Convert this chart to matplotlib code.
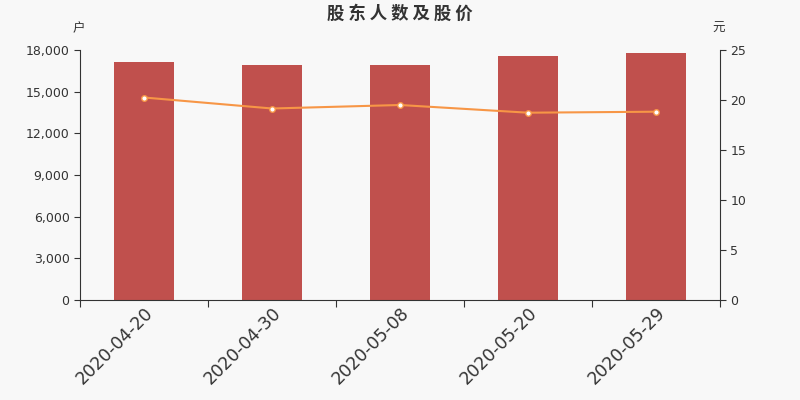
import numpy as np
import matplotlib.pyplot as plt

plt.rcParams['font.family'] = ['DejaVu Sans', 'Noto Sans CJK SC']

dates = ["2020-04-20", "2020-04-30", "2020-05-08", "2020-05-20", "2020-05-29"]
holders = [17170, 16940, 16940, 17570, 17780]
price = [20.25, 19.15, 19.50, 18.73, 18.83]

bg = "#f8f8f8"
bar_color = "#c0504d"
line_color = "#f79646"
text_color = "#333333"

fig = plt.figure(figsize=(8, 4), dpi=100, facecolor=bg)
ax = fig.add_axes([0.1, 0.25, 0.8, 0.625], facecolor=bg)
x = np.arange(len(dates))

ax.bar(x, holders, width=0.47, color=bar_color, zorder=2)
ax.set_xlim(-0.5, len(dates) - 0.5)
ax.set_ylim(0, 18000)
ax.set_yticks(np.arange(0, 18001, 3000))
ax.set_yticklabels([f"{v:,}" for v in range(0, 18001, 3000)])
ax.set_xticks(np.arange(-0.5, len(dates), 1.0))
ax.set_xticklabels([])
ax.set_xticks(x, minor=True)
ax.set_xticklabels(dates, minor=True, rotation=45, ha="right",
                   rotation_mode="anchor", fontsize=12.5, color=text_color)
ax.tick_params(axis="x", which="minor", length=0, pad=3)
ax.tick_params(axis="x", which="major", length=5, color=text_color)
ax.tick_params(axis="y", labelsize=9, colors=text_color, length=4)
ax.spines["top"].set_visible(False)
ax.spines["right"].set_visible(False)
for s in ("left", "bottom"):
    ax.spines[s].set_color(text_color)

ax2 = ax.twinx()
ax2.plot(x, price, color=line_color, lw=1.5, marker="o", ms=4,
         markerfacecolor="white", markeredgecolor=line_color, markeredgewidth=1,
         zorder=3)
ax2.set_ylim(0, 25)
ax2.set_yticks(np.arange(0, 26, 5))
ax2.tick_params(axis="y", labelsize=9, colors=text_color, length=4)
ax2.spines["top"].set_visible(False)
ax2.spines["left"].set_visible(False)
ax2.spines["bottom"].set_visible(False)
ax2.spines["right"].set_color(text_color)

title = "股东人数及股价"
fig.text(0.5, 0.965, " ".join(title), ha="center", va="center",
         fontsize=12.5, fontweight="bold", color=text_color,
         family=['Noto Sans CJK SC', 'DejaVu Sans'])
fig.text(0.098, 0.928, "户", ha="center", va="center", fontsize=9,
         color=text_color, family=['Noto Sans CJK SC'])
fig.text(0.898, 0.928, "元", ha="center", va="center", fontsize=9,
         color=text_color, family=['Noto Sans CJK SC'])

fig.savefig("out.png", dpi=100, facecolor=bg)
